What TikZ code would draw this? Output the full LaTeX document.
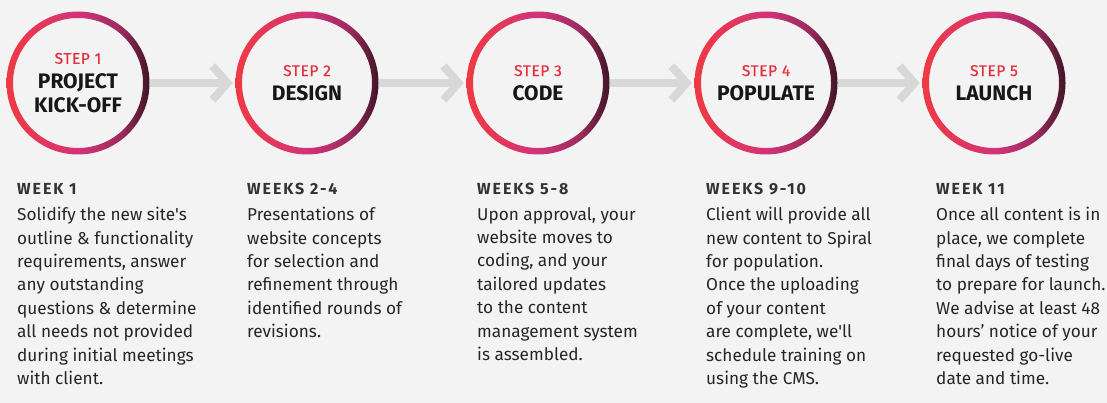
\documentclass[tikz,border=0pt]{standalone}
\usepackage{fontspec}
\setmainfont{Fira Sans}
\usetikzlibrary{arrows.meta,calc}
\definecolor{bg}{HTML}{F3F3F3}
\definecolor{ringL}{HTML}{EF3A44}
\definecolor{ringA}{HTML}{E43658}
\definecolor{ringM}{HTML}{D2347B}
\definecolor{ringP}{HTML}{9C2A5D}
\definecolor{ringR}{HTML}{3E1626}
\definecolor{steptxt}{HTML}{E2323F}
\definecolor{titletxt}{HTML}{171717}
\definecolor{headtxt}{HTML}{333333}
\definecolor{bodytxt}{HTML}{262626}
\definecolor{arrowgray}{HTML}{D8D8D8}
\pgfdeclarehorizontalshading{ringshade}{100bp}{color(0bp)=(ringL); color(25bp)=(ringL); color(36bp)=(ringA); color(50bp)=(ringM); color(65bp)=(ringP); color(75bp)=(ringR); color(100bp)=(ringR)}
\tikzset{
  stepcircle/.style={circle, minimum size=142pt, inner sep=0pt, align=center,
    font=\fontsize{21}{24.5}\selectfont\bfseries, text=titletxt},
  ringfill/.style={even odd rule, shading=ringshade},
  flowarrow/.style={draw=arrowgray, line width=8pt, shorten <=1pt, shorten >=3pt,
    -{Straight Barb[length=15pt,width=34pt,line join=miter]}},
  weekhead/.style={anchor=base west, inner sep=0pt, text=headtxt,
    font=\fontsize{16}{18}\selectfont\bfseries\addfontfeature{LetterSpace=12}},
  weekbody/.style={anchor=north west, inner sep=0pt, text=bodytxt, align=left,
    font=\fontsize{17.2}{23.4}\selectfont}
}
\newcommand{\steplabel}[1]{{\fontsize{15.5}{17}\selectfont\mdseries\addfontfeature{LetterSpace=4,FakeBold=0.7}\color{steptxt}#1}}
\begin{document}
\begin{tikzpicture}[x=1pt,y=-1pt]
\fill[bg] (0,0) rectangle (1107,403);
\useasboundingbox (0,0) rectangle (1107,403);

\node[stepcircle] (c1) at (78,83) {\steplabel{STEP 1}\\PROJECT\\KICK-OFF};
\node[stepcircle] (c2) at (307,83) {\steplabel{STEP 2}\\DESIGN};
\node[stepcircle] (c3) at (538,83) {\steplabel{STEP 3}\\CODE};
\node[stepcircle] (c4) at (766,83) {\steplabel{STEP 4}\\POPULATE};
\node[stepcircle] (c5) at (994,83) {\steplabel{STEP 5}\\LAUNCH};

\foreach \c in {c1,c2,c3,c4,c5}{
  \shade[ringfill] (\c.center) circle[radius=71.5] (\c.center) circle[radius=65];
}

\draw[flowarrow] (c1) -- (c2);
\draw[flowarrow] (c2) -- (c3);
\draw[flowarrow] (c3) -- (c4);
\draw[flowarrow] (c4) -- (c5);

\node[weekhead] (h1) at (17,195) {WEEK 1};
\node[weekhead] (h2) at (247,195) {WEEKS 2-4};
\node[weekhead] (h3) at (477,195) {WEEKS 5-8};
\node[weekhead] (h4) at (706,195) {WEEKS 9-10};
\node[weekhead] (h5) at (936,195) {WEEK 11};

\node[weekbody] (b1) at (17,207) {Solidify the new site\textquotesingle s\\outline \& functionality\\requirements, answer\\any outstanding\\questions \& determine\\all needs not provided\\during initial meetings\\with client.};
\node[weekbody] (b2) at (247,207) {Presentations of\\website concepts\\for selection and\\refinement through\\identified rounds of\\revisions.};
\node[weekbody] (b3) at (477,207) {Upon approval, your\\website moves to\\coding, and your\\tailored updates\\to the content\\management system\\is assembled.};
\node[weekbody] (b4) at (706,207) {Client will provide all\\new content to Spiral\\for population.\\Once the uploading\\of your content\\are complete, we\textquotesingle ll\\schedule training on\\using the CMS.};
\node[weekbody] (b5) at (936,207) {Once all content is in\\place, we complete\\final days of testing\\to prepare for launch.\\We advise at least 48\\hours’ notice of your\\requested go-live\\date and time.};
\end{tikzpicture}
\end{document}
